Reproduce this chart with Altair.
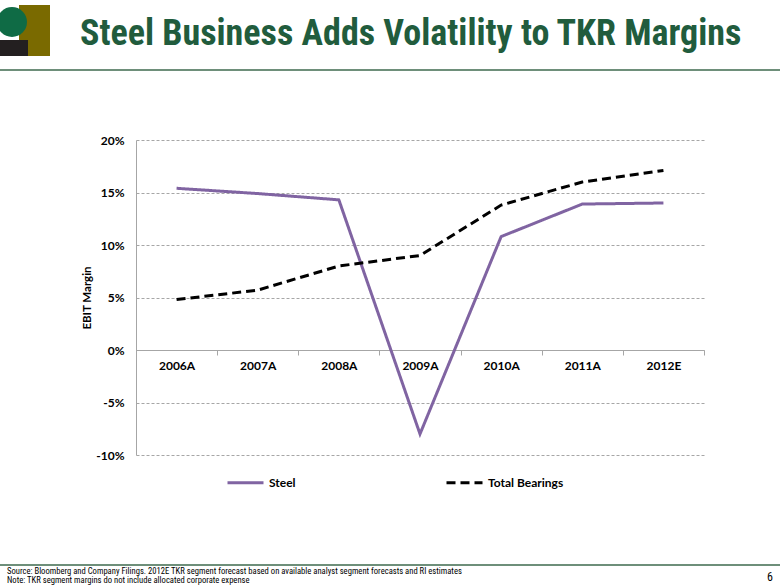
import altair as alt
import pandas as pd

years = ["2006A", "2007A", "2008A", "2009A", "2010A", "2011A", "2012E"]
steel = [0.154, 0.149, 0.143, -0.080, 0.108, 0.139, 0.140]
bearings = [0.048, 0.057, 0.080, 0.090, 0.138, 0.160, 0.171]
series_names = ["Steel", "Total Bearings"]
y_ticks = [-0.10, -0.05, 0.0, 0.05, 0.10, 0.15, 0.20]

title_text = "Steel Business Adds Volatility to TKR Margins"
source_text = "Source: Bloomberg and Company Filings. 2012E TKR segment forecast based on available analyst segment forecasts and RI estimates"
note_text = "Note: TKR segment margins do not include allocated corporate expense"
page_text = "6"

rows = []
for y, s, b in zip(years, steel, bearings):
    rows.append({"year": y, "series": series_names[0], "value": s})
    rows.append({"year": y, "series": series_names[1], "value": b})
df = pd.DataFrame(rows)

LBL_FONT = "Lato"
NARROW = "Roboto Condensed, DejaVu Sans Condensed, Liberation Sans, sans-serif"

legend_kw = dict(title=None, orient="none", direction="horizontal",
                 legendX=90, legendY=323, symbolType="stroke",
                 symbolSize=1296, symbolStrokeWidth=3,
                 labelFont=LBL_FONT, labelFontWeight="bold",
                 labelFontSize=12, labelColor="#000000",
                 columnPadding=144, labelOffset=4, padding=0)

lines = alt.Chart(df).mark_line(strokeWidth=3).encode(
    x=alt.X("year:N", sort=years, title=None,
            scale=alt.Scale(paddingInner=0, paddingOuter=0),
            axis=alt.Axis(orient="bottom", offset=-105, labelAngle=0,
                          tickBand="extent", tickSize=5, tickColor="#a6a6a6",
                          domainColor="#a6a6a6", labelFont=LBL_FONT,
                          labelFontWeight="bold", labelFontSize=12,
                          labelColor="#000000", labelPadding=5, grid=False)),
    y=alt.Y("value:Q", title="EBIT Margin",
            scale=alt.Scale(domain=[-0.10, 0.20], nice=False, zero=False),
            axis=alt.Axis(values=y_ticks,
                          labelExpr="toString(round(datum.value*100)) + '%'",
                          grid=True, gridDash=[3, 2], gridColor="#a6a6a6",
                          gridWidth=1, ticks=False, domainColor="#a6a6a6",
                          labelFont=LBL_FONT, labelFontWeight="bold",
                          labelFontSize=12, labelColor="#000000",
                          labelPadding=12, titleFont=LBL_FONT,
                          titleFontWeight="bold", titleFontSize=11.5,
                          titleColor="#000000", titlePadding=3)),
    color=alt.Color("series:N", sort=series_names,
                    scale=alt.Scale(domain=series_names, range=["#8064A2", "#000000"]),
                    legend=alt.Legend(**legend_kw)),
    strokeDash=alt.StrokeDash("series:N", sort=series_names,
                              scale=alt.Scale(domain=series_names, range=[[1, 0], [9, 5]]),
                              legend=alt.Legend(**legend_kw)),
)

blank = alt.Data(values=[{}])

title = alt.Chart(blank).mark_text(
    text=title_text, font=NARROW, fontWeight="bold", fontSize=36,
    color="#215C3D", align="left", baseline="alphabetic"
).encode(x=alt.value(-56), y=alt.value(-95))

head_rule = alt.Chart(blank).mark_rule(color="#6E8F7A", strokeWidth=2).encode(
    x=alt.value(-136), x2=alt.value(644), y=alt.value(-70))
foot_rule = alt.Chart(blank).mark_rule(color="#6E8F7A", strokeWidth=2).encode(
    x=alt.value(-136), x2=alt.value(644), y=alt.value(425))

src = alt.Chart(blank).mark_text(
    text=source_text, font=NARROW, fontSize=8.6, color="#000000",
    align="left", baseline="middle"
).encode(x=alt.value(-129), y=alt.value(431))
note = alt.Chart(blank).mark_text(
    text=note_text, font=NARROW, fontSize=8.6, color="#000000",
    align="left", baseline="middle"
).encode(x=alt.value(-129), y=alt.value(440))
page = alt.Chart(blank).mark_text(
    text=page_text, font=NARROW, fontSize=12, color="#000000",
    align="center", baseline="middle"
).encode(x=alt.value(634), y=alt.value(437))

# simple logo
logo_olive = alt.Chart(blank).mark_rect(color="#7A6A00").encode(
    x=alt.value(-117), x2=alt.value(-86), y=alt.value(-135), y2=alt.value(-84))
logo_black = alt.Chart(blank).mark_rect(color="#231F20").encode(
    x=alt.value(-136), x2=alt.value(-108), y=alt.value(-100), y2=alt.value(-84))
logo_green = alt.Chart(blank).mark_point(filled=True, color="#0F6B45", size=900, opacity=1,
                                         shape="circle").encode(
    x=alt.value(-124), y=alt.value(-118))

chart = alt.layer(
    head_rule, foot_rule, logo_olive, logo_black, logo_green,
    lines, title, src, note, page
).properties(
    width=568, height=315,
    autosize=alt.AutoSizeParams(type="none"),
    padding={"left": 136, "top": 140, "right": 76, "bottom": 130},
    background="#ffffff",
).configure_view(stroke=None)

chart.save("out.html", embed_options={"renderer": "svg", "actions": False})
